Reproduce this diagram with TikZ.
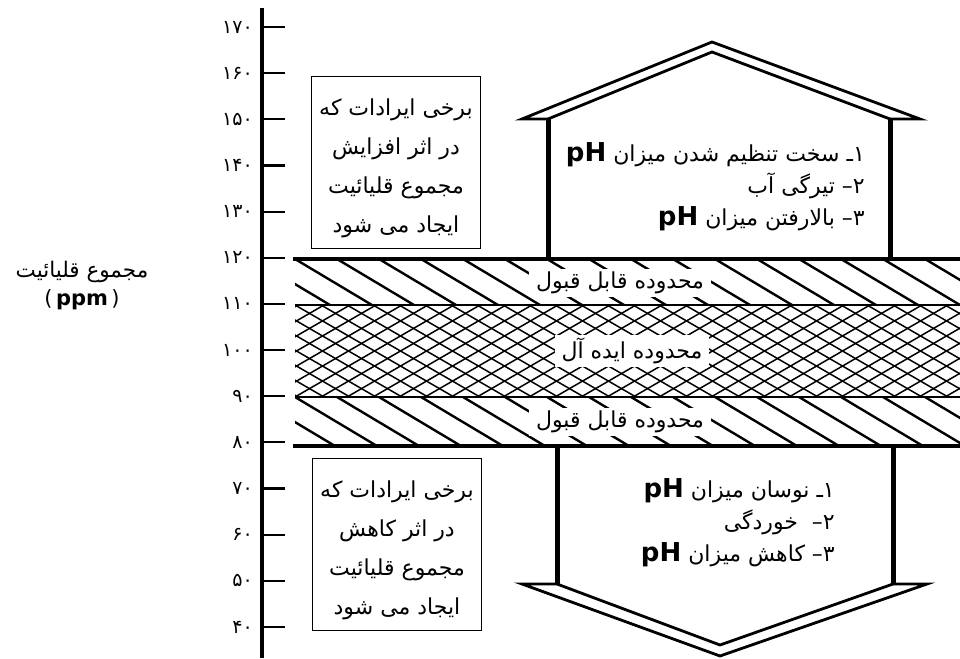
\documentclass[tikz,border=0pt]{standalone}
\usepackage{fontspec}
\setmainfont{DejaVu Sans}
\newfontfamily\arabicfont[Script=Arabic]{DejaVu Sans}
\TeXXeTstate=1
\usetikzlibrary{positioning}
\newcommand{\rl}[1]{{\arabicfont\beginR #1\endR}}
\newcommand{\ph}{\beginL{\fontsize{26}{32}\selectfont\bfseries pH}\endL}
\tikzset{
  axisline/.style = {line width=4.5pt},
  tick/.style     = {line width=2.2pt},
  ticklab/.style  = {font=\arabicfont\fontsize{19}{20}\selectfont, anchor=east, inner sep=0pt},
  edgeline/.style = {line width=4.5pt},
  midline/.style  = {line width=2pt},
  hatch/.style    = {line width=2.4pt},
  mesh/.style     = {line width=1.5pt},
  wall/.style     = {line width=5pt},
  roof/.style     = {line width=2.8pt, line join=miter},
  notebox/.style  = {draw, line width=0.9pt, minimum width=169pt, minimum height=172pt},
  notetext/.style = {align=center, inner sep=0pt, yshift=-6pt, font=\fontsize{22}{39}\selectfont},
  band/.style     = {fill=white, inner xsep=7pt, inner ysep=3pt, font=\fontsize{22}{24}\selectfont},
  effects/.style  = {align=right, anchor=east, inner sep=0pt, font=\fontsize{#1}{32}\selectfont},
}
\begin{document}
\begin{tikzpicture}[x=1pt, y=-1pt]
  \useasboundingbox (0,0) rectangle (960,658);
  % axis
  \draw[axisline] (262,8) -- (262,658);
  \foreach \lab [count=\i from 0] in {۱۷۰,۱۶۰,۱۵۰,۱۴۰,۱۳۰,۱۲۰,۱۱۰,۱۰۰,۹۰,۸۰,۷۰,۶۰,۵۰,۴۰} {
    \draw[tick] (262,{27+46.15*\i}) -- (285,{27+46.15*\i});
    \node[ticklab] (t\i) at (253,{27+46.15*\i}) {\lab};
  }
  \node (ylab) at (82,272) {\rl{\fontsize{21.5}{24}\selectfont مجموع قلیائیت}};
  \node[below=0pt of ylab] (yunit) {\fontsize{21}{24}\selectfont (\,\textbf{ppm}\,)};
  % hatched bands
  \begin{scope}
    \clip (295,259) rectangle (960,305);
    \foreach \k in {-2,...,16} \draw[hatch] ({295+42*\k},259) -- ++(77,46);
  \end{scope}
  \begin{scope}
    \clip (295,305) rectangle (960,397);
    \foreach \k in {-7,...,27} {
      \draw[mesh] ({295+26*\k},305) -- ++(159,92);
      \draw[mesh] ({295+26*\k},397) -- ++(159,-92);
    }
  \end{scope}
  \begin{scope}
    \clip (295,397) rectangle (960,446);
    \foreach \k in {-2,...,16} \draw[hatch] ({295+42*\k},397) -- ++(82,49);
  \end{scope}
  \draw[edgeline] (293,259) -- (960,259);
  \draw[midline] (295,305) -- (960,305);
  \draw[midline] (295,397) -- (960,397);
  \draw[edgeline] (293,446) -- (960,446);
  \node[band] (okup) at (620,283) {\rl{محدوده قابل قبول}};
  \node[band] (ideal) at (632,351) {\rl{محدوده ایده آل}};
  \node[band] (oklow) at (620,422) {\rl{محدوده قابل قبول}};
  % upper arrow
  \draw[wall] (548,259) -- (548,119);
  \draw[wall] (890,119) -- (890,259);
  \draw[roof] (548,119) -- (712,52) -- (890,119);
  \draw[roof] (548,119) -- (522,119) -- (712,42) -- (920,119) -- (890,119);
  % lower arrow
  \draw[wall] (557,446) -- (557,584);
  \draw[wall] (893,584) -- (893,446);
  \draw[roof] (557,584) -- (720,645) -- (893,584);
  \draw[roof] (557,584) -- (522,584) -- (720,656) -- (927,584) -- (893,584);
  % notes
  \node[notebox] (hibox) at (396,162) {};
  \node[notetext] (hinote) at (hibox)
    {\rl{برخی ایرادات که}\\ \rl{در اثر افزایش}\\ \rl{مجموع قلیائیت}\\ \rl{ایجاد می شود}};
  \node[notebox] (lobox) at (397,544) {};
  \node[notetext] (lonote) at (lobox)
    {\rl{برخی ایرادات که}\\ \rl{در اثر کاهش}\\ \rl{مجموع قلیائیت}\\ \rl{ایجاد می شود}};
  \node[effects=22] (hieff) at (865,187)
    {\rl{۱\kern0pt ـ سخت تنظیم شدن میزان \ph}\\
     \rl{۲\kern0pt – تیرگی آب}\\
     \rl{۳\kern0pt – بالارفتن میزان \ph}};
  \node[effects=22] (loeff) at (835,523)
    {\rl{۱\kern0pt ـ نوسان میزان \ph}\\
     \rl{۲\kern0pt –\ \ خوردگی}\\
     \rl{۳\kern0pt – کاهش میزان \ph}};
\end{tikzpicture}
\end{document}
